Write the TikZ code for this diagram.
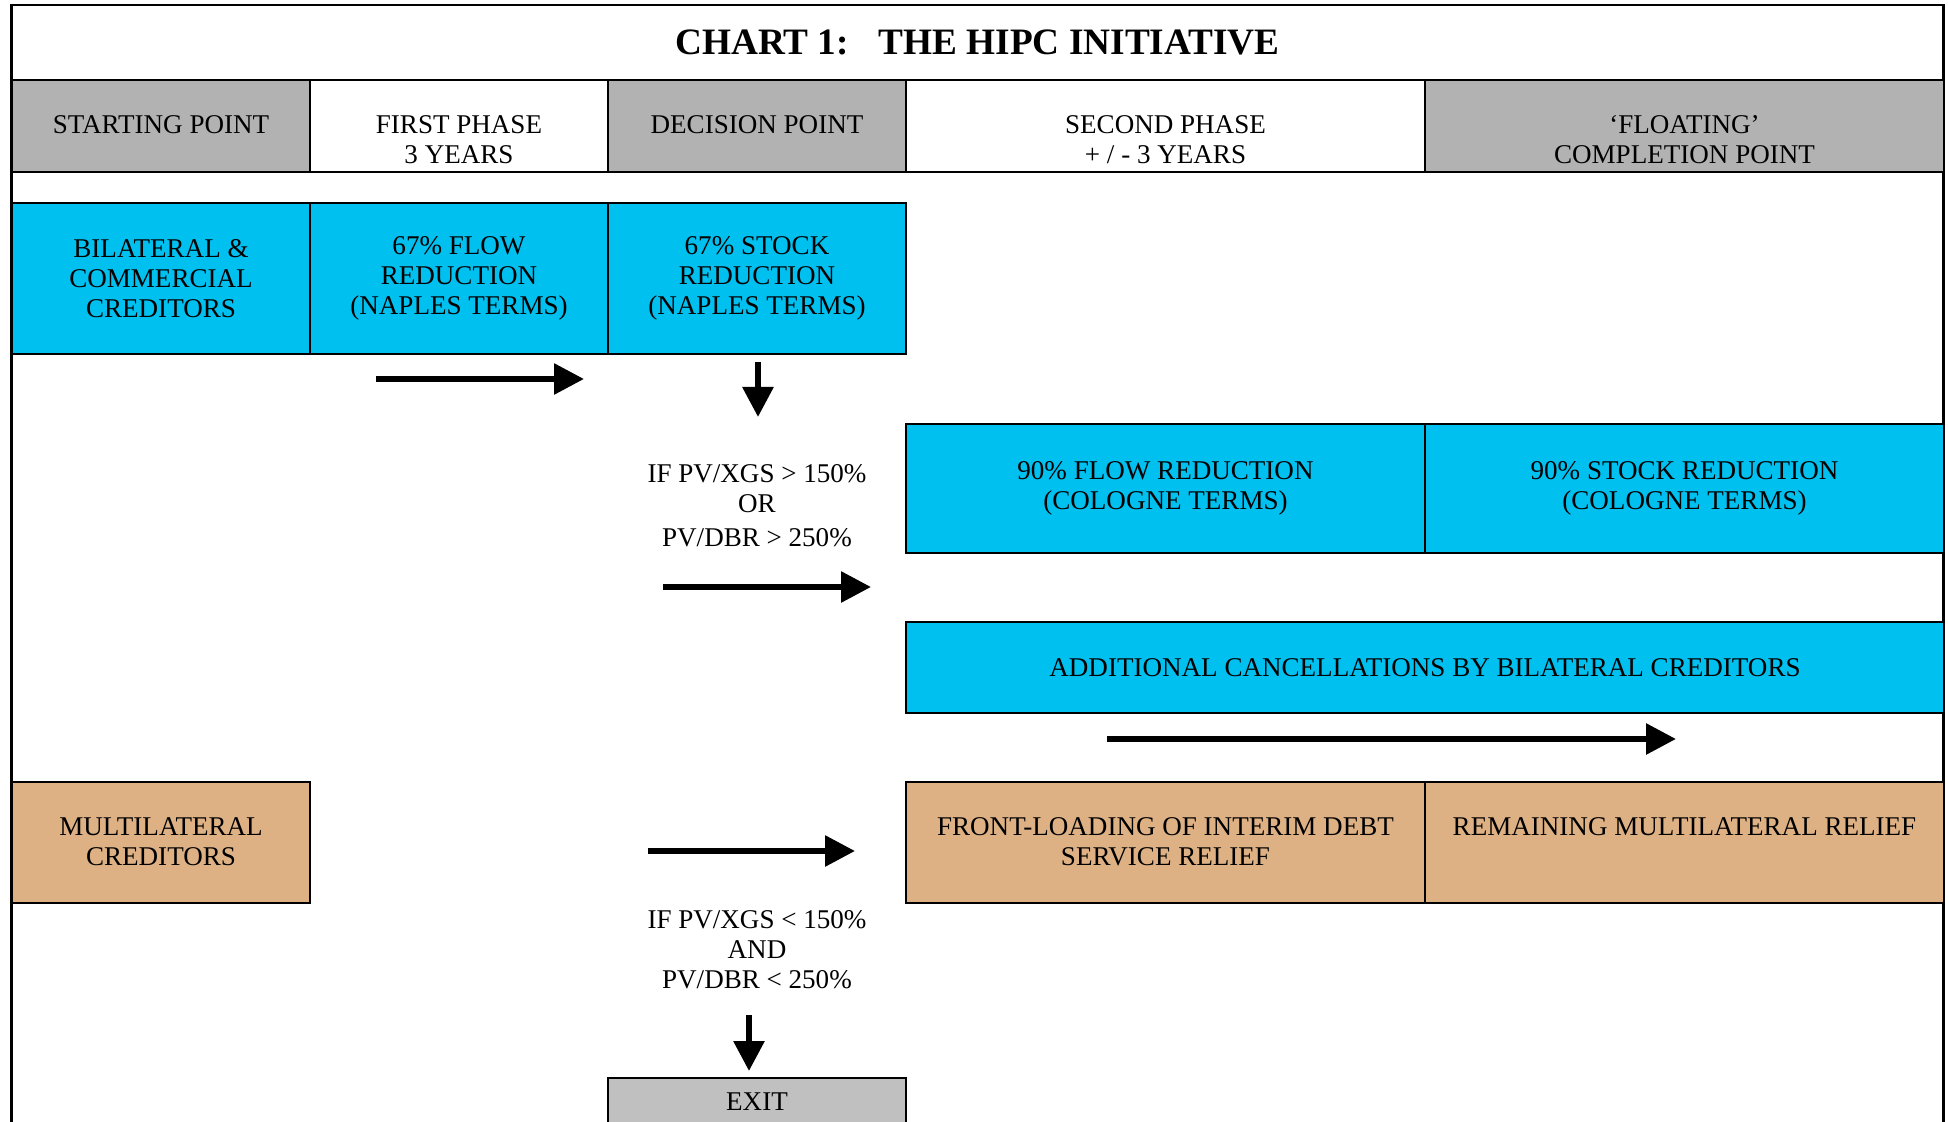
\documentclass[tikz,border=0pt]{standalone}
\usepackage{fontspec}
\setmainfont{Liberation Serif}
\usetikzlibrary{arrows.meta}
\definecolor{hipccyan}{RGB}{0,192,240}
\definecolor{hipctan}{RGB}{222,177,133}
\definecolor{hdrgray}{RGB}{178,178,178}
\definecolor{exitgray}{RGB}{192,192,192}
\newcommand{\chartfont}{\fontsize{15.4}{17}\selectfont}
\tikzset{
    cell/.style={draw, line width=1pt, inner sep=0pt, align=center, font=\chartfont},
    narrow/.style={minimum width=5.96cm},
    wide/.style={minimum width=10.38cm},
    toptxt/.style={anchor=north, inner sep=0pt, align=center, font=\chartfont},
    flow/.style={->, line width=3.4pt}
}

\begin{document}
\begin{tikzpicture}[y=-1cm, >={Triangle[length=0.6cm,width=0.6cm]}]
    \useasboundingbox (0,0) rectangle (38.96,22.44);
    
    % frame and title
    \draw[line width=1.2pt] (0.23,23) -- (0.23,0.10) -- (38.87,0.10) -- (38.87,23);
    \node[cell, minimum width=38.64cm, minimum height=1.5cm, font=\fontsize{21.2}{24}\selectfont\bfseries] (title) at (19.55,0.85) {CHART 1:\hspace{0.8em}THE HIPC INITIATIVE};
    
    % header row
    \node[cell, narrow, fill=hdrgray, minimum height=1.84cm] (startpt) at (3.22,2.52) {};
    \node[cell, narrow, minimum height=1.84cm] (phase1) at (9.18,2.52) {};
    \node[cell, narrow, fill=hdrgray, minimum height=1.84cm] (decision) at (15.14,2.52) {};
    \node[cell, wide, minimum height=1.84cm] (phase2) at (23.31,2.52) {};
    \node[cell, wide, fill=hdrgray, minimum height=1.84cm] (completion) at (33.69,2.52) {};
    \node[toptxt] (startpttxt) at (3.22,2.30) {STARTING POINT};
    \node[toptxt] (phase1txt) at (9.18,2.30) {FIRST PHASE\\3 YEARS};
    \node[toptxt] (decisiontxt) at (15.14,2.30) {DECISION POINT};
    \node[toptxt] (phase2txt) at (23.31,2.30) {SECOND PHASE\\+ / - 3 YEARS};
    \node[toptxt] (completiontxt) at (33.69,2.30) {‘FLOATING’\\COMPLETION POINT};
    
    % bilateral creditors
    \node[cell, narrow, fill=hipccyan, minimum height=3.02cm] (bilateral) at (3.22,5.57) {BILATERAL \&\\COMMERCIAL\\CREDITORS};
    \node[cell, narrow, fill=hipccyan, minimum height=3.02cm] (flow67) at (9.18,5.57) {67\% FLOW\\REDUCTION\\(NAPLES TERMS)};
    \node[cell, narrow, fill=hipccyan, minimum height=3.02cm] (stock67) at (15.14,5.57) {67\% STOCK\\REDUCTION\\(NAPLES TERMS)};
    \node[cell, wide, fill=hipccyan, minimum height=2.58cm] (flow90) at (23.31,9.77) {90\% FLOW REDUCTION\\(COLOGNE TERMS)};
    \node[cell, wide, fill=hipccyan, minimum height=2.58cm] (stock90) at (33.69,9.77) {90\% STOCK REDUCTION\\(COLOGNE TERMS)};
    \node[cell, minimum width=20.76cm, fill=hipccyan, minimum height=1.82cm] (additional) at (28.50,13.35) {ADDITIONAL CANCELLATIONS BY BILATERAL CREDITORS};
    
    % multilateral creditors
    \node[cell, narrow, fill=hipctan, minimum height=2.42cm] (multilateral) at (3.22,16.85) {};
    \node[cell, wide, fill=hipctan, minimum height=2.42cm] (frontload) at (23.31,16.85) {};
    \node[cell, wide, fill=hipctan, minimum height=2.42cm] (remaining) at (33.69,16.85) {};
    \node[toptxt] (multilateraltxt) at (3.22,16.34) {MULTILATERAL\\CREDITORS};
    \node[toptxt] (frontloadtxt) at (23.31,16.34) {FRONT-LOADING OF INTERIM DEBT\\SERVICE RELIEF};
    \node[toptxt] (remainingtxt) at (33.69,16.34) {REMAINING MULTILATERAL RELIEF};
    
    % conditions and exit
    \node[toptxt] (ifabove) at (15.14,9.28) {IF PV/XGS > 150\%\\OR\\[2.3pt]PV/DBR > 250\%};
    \node[toptxt] (ifbelow) at (15.14,18.20) {IF PV/XGS < 150\%\\AND\\PV/DBR < 250\%};
    \node[cell, narrow, fill=exitgray, minimum height=0.94cm] (exit) at (15.14,22.03) {EXIT};
    
    % arrows
    \coordinate (a1s) at (7.52,7.58);
    \coordinate (a1e) at (11.68,7.58);
    \coordinate (a2s) at (15.16,7.24);
    \coordinate (a2e) at (15.16,8.34);
    \coordinate (a3s) at (13.26,11.74);
    \coordinate (a3e) at (17.42,11.74);
    \coordinate (a4s) at (22.14,14.78);
    \coordinate (a4e) at (33.52,14.78);
    \coordinate (a5s) at (12.95,17.02);
    \coordinate (a5e) at (17.10,17.02);
    \coordinate (a6s) at (14.98,20.30);
    \coordinate (a6e) at (14.98,21.42);
    \draw[flow] (a1s) -- (a1e);
    \draw[flow] (a2s) -- (a2e);
    \draw[flow] (a3s) -- (a3e);
    \draw[flow] (a4s) -- (a4e);
    \draw[flow] (a5s) -- (a5e);
    \draw[flow] (a6s) -- (a6e);
    
\end{tikzpicture}
\end{document}
